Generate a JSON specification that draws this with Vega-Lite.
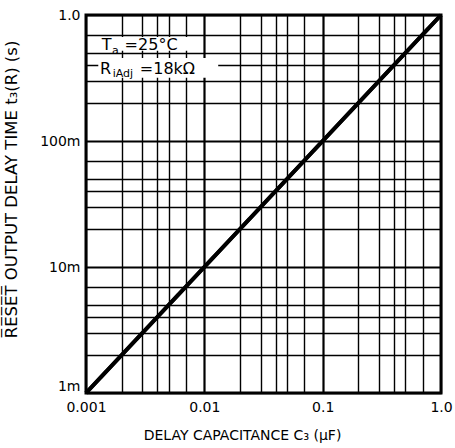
{
  "$schema": "https://vega.github.io/schema/vega-lite/v6.json",
  "width": 355,
  "height": 378,
  "autosize": {"type": "none"},
  "padding": {"left": 86, "top": 15, "right": 14, "bottom": 55},
  "background": "white",
  "config": {
    "view": {"stroke": "black", "strokeWidth": 3},
    "font": "DejaVu Sans"
  },
  "datasets": {
    "curve": [
      {"c": 0.001, "t": 0.001},
      {"c": 1.0, "t": 1.0}
    ],
    "boxes": [
      {"x1": 0.00127, "x2": 0.0075, "y1": 0.67, "y2": 0.52},
      {"x1": 0.00127, "x2": 0.0131, "y1": 0.456, "y2": 0.318}
    ],
    "notes": [
      {"x": 0.00136, "y": 0.5275, "txt": "T", "role": "main"},
      {"x": 0.00166, "y": 0.49, "txt": "a", "role": "sub"},
      {"x": 0.00212, "y": 0.5275, "txt": "=25°C", "role": "main"},
      {"x": 0.00131, "y": 0.34, "txt": "R", "role": "main"},
      {"x": 0.00168, "y": 0.322, "txt": "iAdj", "role": "sub"},
      {"x": 0.00285, "y": 0.34, "txt": "=18kΩ", "role": "main"}
    ]
  },
  "layer": [
    {
      "data": {"name": "curve"},
      "mark": {"type": "line", "color": "black", "strokeWidth": 4},
      "encoding": {
        "x": {
          "field": "c", "type": "quantitative",
          "scale": {"type": "log", "domain": [0.001, 1], "nice": false},
          "axis": {
            "values": [0.001,0.002,0.003,0.004,0.005,0.007,0.01,0.02,0.03,0.04,0.05,0.07,0.1,0.2,0.3,0.4,0.5,0.7,1],
            "labelExpr": "datum.value==0.001?'0.001':datum.value==0.01?'0.01':datum.value==0.1?'0.1':datum.value==1?'1.0':''",
            "grid": true, "gridColor": "black", "gridOpacity": 1,
            "gridWidth": {"condition": {"test": "datum.value==0.01||datum.value==0.1", "value": 2.2}, "value": 1.4},
            "ticks": false, "domain": false,
            "labelFont": "DejaVu Sans", "labelFontSize": 14, "labelColor": "black",
            "labelPadding": 7, "labelFlush": false, "labelOverlap": false,
            "title": "DELAY CAPACITANCE C₃ (μF)",
            "titleFont": "DejaVu Sans", "titleFontSize": 14, "titleFontWeight": "normal",
            "titleColor": "black", "titleX": 156, "titleY": 42, "titleBaseline": "middle", "titleAnchor": "middle", "titleAlign": "center"
          }
        },
        "y": {
          "field": "t", "type": "quantitative",
          "scale": {"type": "log", "domain": [0.001, 1], "nice": false},
          "axis": {
            "values": [0.001,0.002,0.003,0.004,0.005,0.007,0.01,0.02,0.03,0.04,0.05,0.07,0.1,0.2,0.3,0.4,0.5,0.7,1],
            "labelExpr": "datum.value==0.001?'1m':datum.value==0.01?'10m':datum.value==0.1?'100m':datum.value==1?'1.0':''",
            "labelBaseline": {"condition": {"test": "datum.value==0.001", "value": "bottom"}, "value": "middle"},
            "grid": true, "gridColor": "black", "gridOpacity": 1,
            "gridWidth": {"condition": {"test": "datum.value==0.01||datum.value==0.1", "value": 2.2}, "value": 1.4},
            "ticks": false, "domain": false,
            "labelFont": "DejaVu Sans", "labelFontSize": 14, "labelColor": "black",
            "labelPadding": 6, "labelFlush": false, "labelOverlap": false,
            "title": "R̅E̅S̅E̅T̅ OUTPUT DELAY TIME t₃(R) (s)",
            "titleFont": "DejaVu Sans", "titleFontSize": 16.5, "titleFontWeight": "normal",
            "titleColor": "black", "titleX": -75, "titleY": 174, "titleBaseline": "middle", "titleAnchor": "middle", "titleAlign": "center", "titleAngle": -90
          }
        }
      }
    },
    {
      "data": {"name": "boxes"},
      "mark": {"type": "rect", "color": "white", "opacity": 1},
      "encoding": {
        "x": {"field": "x1", "type": "quantitative", "scale": {"type": "log"}},
        "x2": {"field": "x2"},
        "y": {"field": "y1", "type": "quantitative", "scale": {"type": "log"}},
        "y2": {"field": "y2"}
      }
    },
    {
      "data": {"name": "notes"},
      "mark": {"type": "text", "align": "left", "baseline": "alphabetic", "color": "black", "font": "DejaVu Sans"},
      "encoding": {
        "x": {"field": "x", "type": "quantitative", "scale": {"type": "log"}},
        "y": {"field": "y", "type": "quantitative", "scale": {"type": "log"}},
        "text": {"field": "txt"},
        "size": {"field": "role", "type": "nominal", "scale": {"domain": ["main", "sub"], "range": [16, 11]}, "legend": null}
      }
    },
    {
      "data": {"name": "curve"},
      "mark": {"type": "line", "color": "black", "strokeWidth": 4},
      "encoding": {
        "x": {"field": "c", "type": "quantitative", "scale": {"type": "log"}},
        "y": {"field": "t", "type": "quantitative", "scale": {"type": "log"}}
      }
    }
  ]
}
